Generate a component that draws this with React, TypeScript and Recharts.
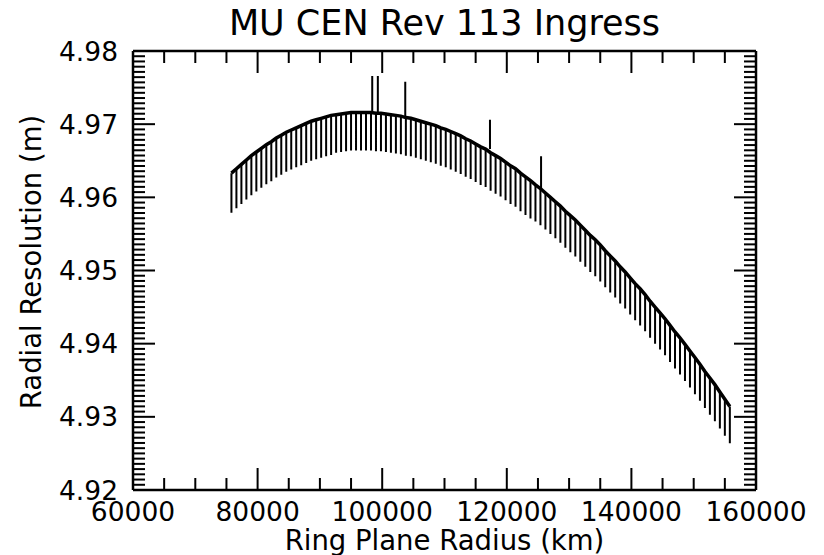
import React from 'react';
import { LineChart, Line, XAxis, YAxis } from 'recharts';

// Ring plane radius (km) of each resolution sample
const radiusKm = [
  75800, 76600, 77400, 78200, 79000, 79800, 80600, 81400, 82200, 83000,
  83800, 84600, 85400, 86200, 87000, 87800, 88600, 89400, 90200, 91000,
  91800, 92600, 93400, 94200, 95000, 95800, 96600, 97400, 98200, 99000,
  99800, 100600, 101400, 102200, 103000, 103800, 104600, 105400, 106200, 107000,
  107800, 108600, 109400, 110200, 111000, 111800, 112600, 113400, 114200, 115000,
  115800, 116600, 117400, 118200, 119000, 119800, 120600, 121400, 122200, 123000,
  123800, 124600, 125400, 126200, 127000, 127800, 128600, 129400, 130200, 131000,
  131800, 132600, 133400, 134200, 135000, 135800, 136600, 137400, 138200, 139000,
  139800, 140600, 141400, 142200, 143000, 143800, 144600, 145400, 146200, 147000,
  147800, 148600, 149400, 150200, 151000, 151800, 152600, 153400, 154200, 155000,
  155800,
];

// Upper envelope of the radial resolution (m)
const upperRes = [
  4.9633, 4.9639, 4.9645, 4.9651, 4.9657, 4.9662, 4.9667, 4.9672, 4.9676, 4.9681,
  4.9685, 4.9689, 4.9692, 4.9695, 4.9698, 4.9701, 4.9704, 4.9706, 4.9708, 4.9710,
  4.9712, 4.9713, 4.9714, 4.9715, 4.9716, 4.9716, 4.9716, 4.9716, 4.9716, 4.9715,
  4.9715, 4.9714, 4.9713, 4.9712, 4.9711, 4.9709, 4.9708, 4.9706, 4.9704, 4.9702,
  4.9700, 4.9698, 4.9695, 4.9693, 4.9690, 4.9687, 4.9684, 4.9680, 4.9677, 4.9673,
  4.9669, 4.9666, 4.9661, 4.9657, 4.9653, 4.9648, 4.9643, 4.9639, 4.9633, 4.9628,
  4.9623, 4.9617, 4.9612, 4.9606, 4.9600, 4.9594, 4.9588, 4.9581, 4.9575, 4.9569,
  4.9562, 4.9555, 4.9548, 4.9542, 4.9535, 4.9527, 4.9520, 4.9513, 4.9505, 4.9498,
  4.9490, 4.9482, 4.9475, 4.9467, 4.9458, 4.9450, 4.9442, 4.9434, 4.9425, 4.9416,
  4.9408, 4.9399, 4.9390, 4.9381, 4.9372, 4.9362, 4.9353, 4.9344, 4.9334, 4.9324,
  4.9314,
];

// Bottom of each downward excursion (m)
const lowerRes = [
  4.9579, 4.9585, 4.9591, 4.9597, 4.9603, 4.9608, 4.9613, 4.9618, 4.9622, 4.9627,
  4.9631, 4.9635, 4.9638, 4.9641, 4.9644, 4.9647, 4.9650, 4.9652, 4.9654, 4.9656,
  4.9658, 4.9661, 4.9662, 4.9663, 4.9664, 4.9664, 4.9664, 4.9664, 4.9664, 4.9663,
  4.9663, 4.9662, 4.9661, 4.9660, 4.9659, 4.9657, 4.9656, 4.9654, 4.9652, 4.9650,
  4.9648, 4.9646, 4.9643, 4.9641, 4.9638, 4.9635, 4.9632, 4.9628, 4.9625, 4.9621,
  4.9617, 4.9614, 4.9609, 4.9605, 4.9601, 4.9596, 4.9591, 4.9587, 4.9581, 4.9576,
  4.9571, 4.9567, 4.9562, 4.9556, 4.9550, 4.9544, 4.9538, 4.9531, 4.9525, 4.9519,
  4.9512, 4.9505, 4.9498, 4.9492, 4.9485, 4.9477, 4.9470, 4.9463, 4.9455, 4.9448,
  4.9440, 4.9432, 4.9425, 4.9417, 4.9408, 4.9400, 4.9392, 4.9384, 4.9375, 4.9366,
  4.9358, 4.9349, 4.9340, 4.9331, 4.9322, 4.9312, 4.9303, 4.9294, 4.9284, 4.9274,
  4.9264,
];

// Isolated upward spikes
const spikeRadiusKm = [98400, 99300, 103700, 117300, 125500];
const spikeBaseRes = [4.9716, 4.9715, 4.9711, 4.9666, 4.9612];
const spikeTopRes = [4.9766, 4.9766, 4.9758, 4.9706, 4.9656];

// Axis ticks
const xMajorTicks = [60000, 80000, 100000, 120000, 140000, 160000];
const yMajorTicks = [4.92, 4.93, 4.94, 4.95, 4.96, 4.97, 4.98];
const xMinorPerMajor = 4;
const yMinorPerMajor = 14;

const W = 824;
const H = 555;
const M = { top: 50, right: 67, bottom: 64, left: 132 };
const FONT = '"DejaVu Sans", sans-serif';

const xTicks: number[] = [];
for (let i = 0; i < xMajorTicks.length - 1; i++) {
  const a = xMajorTicks[i];
  const b = xMajorTicks[i + 1];
  for (let k = 0; k < xMinorPerMajor; k++) xTicks.push(a + ((b - a) * k) / xMinorPerMajor);
}
xTicks.push(xMajorTicks[xMajorTicks.length - 1]);

const yTicks: number[] = [];
for (let i = 0; i < yMajorTicks.length - 1; i++) {
  const a = yMajorTicks[i];
  const b = yMajorTicks[i + 1];
  for (let k = 0; k < yMinorPerMajor; k++) yTicks.push(a + ((b - a) * k) / yMinorPerMajor);
}
yTicks.push(yMajorTicks[yMajorTicks.length - 1]);

const isMajorX = (v: number) => xMajorTicks.some((m) => Math.abs(m - v) < 1e-6);
const isMajorY = (v: number) => yMajorTicks.some((m) => Math.abs(m - v) < 1e-7);

const MAJOR = 22;
const MINOR = 12;

const BottomTick = (p: any) => {
  const v = p.payload.value;
  const maj = isMajorX(v);
  const y = p.y;
  return (
    <g>
      <line x1={p.x} x2={p.x} y1={y} y2={y - (maj ? MAJOR : MINOR)} stroke="#000" strokeWidth={2} />
      {maj && (
        <text x={p.x} y={y + 31} textAnchor="middle" fontFamily={FONT} fontSize={26.5} fill="#000">
          {String(v)}
        </text>
      )}
    </g>
  );
};
const TopTick = (p: any) => {
  const v = p.payload.value;
  const maj = isMajorX(v);
  return <line x1={p.x} x2={p.x} y1={p.y} y2={p.y + (maj ? MAJOR : MINOR)} stroke="#000" strokeWidth={2} />;
};
const LeftTick = (p: any) => {
  const v = p.payload.value;
  const maj = isMajorY(v);
  return (
    <g>
      <line x1={p.x} x2={p.x + (maj ? MAJOR : MINOR)} y1={p.y} y2={p.y} stroke="#000" strokeWidth={2} />
      {maj && (
        <text x={p.x - 15} y={p.y} dy="0.36em" textAnchor="end" fontFamily={FONT} fontSize={26.5} fill="#000">
          {v.toFixed(2)}
        </text>
      )}
    </g>
  );
};
const RightTick = (p: any) => {
  const v = p.payload.value;
  const maj = isMajorY(v);
  return <line x1={p.x} x2={p.x - (maj ? MAJOR : MINOR)} y1={p.y} y2={p.y} stroke="#000" strokeWidth={2} />;
};

const upperData = radiusKm.map((r, i) => ({ r, v: upperRes[i] }));
const hangData: { r: number; v: number | null }[] = [];
radiusKm.forEach((r, i) => {
  hangData.push({ r, v: upperRes[i] });
  hangData.push({ r, v: lowerRes[i] });
  hangData.push({ r, v: null });
});
const spikeData: { r: number; v: number | null }[] = [];
spikeRadiusKm.forEach((r, i) => {
  spikeData.push({ r, v: spikeBaseRes[i] });
  spikeData.push({ r, v: spikeTopRes[i] });
  spikeData.push({ r, v: null });
});

const axisLine = { stroke: '#000', strokeWidth: 2.5 };

export default function App() {
  const plotCx = 133 + (756 - 133) / 2;
  return (
    <div style={{ position: 'absolute', left: 0, top: 0, width: W, height: H, background: '#fff' }}>
      <LineChart width={W} height={H} margin={M}>
        <XAxis
          xAxisId="b"
          dataKey="r"
          type="number"
          domain={[60000, 160000]}
          ticks={xTicks}
          interval={0}
          height={1}
          tickSize={0}
          tickMargin={0}
          tick={(p: any) => <BottomTick {...p} />}
          tickLine={false}
          axisLine={axisLine}
          allowDataOverflow
        />
        <XAxis
          xAxisId="t"
          orientation="top"
          dataKey="r"
          type="number"
          domain={[60000, 160000]}
          ticks={xTicks}
          interval={0}
          height={1}
          tickSize={0}
          tickMargin={0}
          tick={(p: any) => <TopTick {...p} />}
          tickLine={false}
          axisLine={axisLine}
          allowDataOverflow
        />
        <YAxis
          yAxisId="l"
          type="number"
          domain={[4.92, 4.98]}
          ticks={yTicks}
          interval={0}
          width={1}
          tickSize={0}
          tickMargin={0}
          tick={(p: any) => <LeftTick {...p} />}
          tickLine={false}
          axisLine={axisLine}
          allowDataOverflow
        />
        <YAxis
          yAxisId="r"
          orientation="right"
          type="number"
          domain={[4.92, 4.98]}
          ticks={yTicks}
          interval={0}
          width={1}
          tickSize={0}
          tickMargin={0}
          tick={(p: any) => <RightTick {...p} />}
          tickLine={false}
          axisLine={axisLine}
          allowDataOverflow
        />
        <Line
          xAxisId="b"
          yAxisId="l"
          data={hangData}
          dataKey="v"
          type="linear"
          stroke="#000"
          strokeWidth={2}
          dot={false}
          activeDot={false}
          connectNulls={false}
          isAnimationActive={false}
        />
        <Line
          xAxisId="b"
          yAxisId="l"
          data={spikeData}
          dataKey="v"
          type="linear"
          stroke="#000"
          strokeWidth={2}
          dot={false}
          activeDot={false}
          connectNulls={false}
          isAnimationActive={false}
        />
        <Line
          xAxisId="b"
          yAxisId="l"
          data={upperData}
          dataKey="v"
          type="linear"
          stroke="#000"
          strokeWidth={3.5}
          dot={false}
          activeDot={false}
          isAnimationActive={false}
        />
      </LineChart>
      <svg
        width={W}
        height={H}
        style={{ position: 'absolute', left: 0, top: 0, pointerEvents: 'none' }}
      >
        <text x={plotCx} y={35} textAnchor="middle" fontFamily={FONT} fontSize={35} fill="#000">
          MU CEN Rev 113 Ingress
        </text>
        <text x={plotCx} y={550} textAnchor="middle" fontFamily={FONT} fontSize={27.5} fill="#000">
          Ring Plane Radius (km)
        </text>
        <text
          x={0}
          y={0}
          transform={`translate(41, 262) rotate(-90)`}
          textAnchor="middle"
          fontFamily={FONT}
          fontSize={27.5}
          fill="#000"
        >
          Radial Resolution (m)
        </text>
      </svg>
    </div>
  );
}
